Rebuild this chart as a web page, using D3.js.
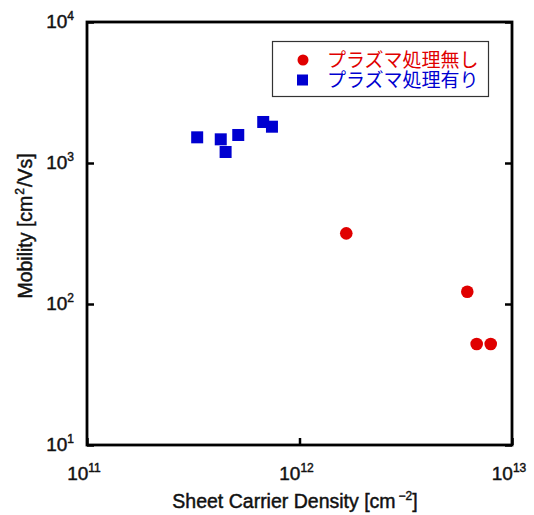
<!DOCTYPE html>
<html><head><meta charset="utf-8">
<script src="https://cdn.jsdelivr.net/npm/d3@7"></script>
<style>body{margin:0;background:#fff}svg{display:block}</style>
</head><body>
<svg id="c" width="534" height="515"></svg>
<script>
const noPlasmaX = [1.66e12, 6.16e12, 6.82e12, 7.94e12];
const noPlasmaY = [317, 122, 52, 52];
const plasmaX = [3.30e11, 4.26e11, 4.49e11, 5.15e11, 6.75e11, 7.42e11];
const plasmaY = [1521, 1472, 1197, 1580, 1954, 1809];
const xTicks = [11, 12, 13];
const yTicks = [1, 2, 3, 4];
const seriesNames = ["プラズマ処理無し", "プラズマ処理有り"];

const svg = d3.select("#c");
const L = 87, R = 512, T = 22, B = 445;
const x = d3.scaleLog().domain([1e11, 1e13]).range([L, R]);
const y = d3.scaleLog().domain([1e1, 1e4]).range([B, T]);
const font = "'Liberation Sans', Arial, sans-serif";
const red = "#e00000", blue = "#0000d0";
const ink = "#111";

function heavy(t) { return t.attr("stroke", ink).attr("stroke-width", 0.45).attr("paint-order", "stroke"); }

// ticks (inward)
const xAxis = d3.axisBottom(x).tickValues(xTicks.map(e => Math.pow(10, e))).tickSize(-7).tickFormat("");
const yAxis = d3.axisLeft(y).tickValues(yTicks.map(e => Math.pow(10, e))).tickSize(-7).tickFormat("");
const gx = svg.append("g").attr("transform", `translate(0,${B})`).call(xAxis);
const gy = svg.append("g").attr("transform", `translate(${L},0)`).call(yAxis);
const gy2 = svg.append("g").attr("transform", `translate(${R},0)`).call(d3.axisRight(y).tickValues(yTicks.map(e => Math.pow(10, e))).tickSize(-7).tickFormat(""));
[gx, gy, gy2].forEach(g => { g.select(".domain").remove(); g.selectAll("line").attr("stroke", "#000").attr("stroke-width", 2.5); });

svg.append("rect").attr("x", L).attr("y", T).attr("width", R - L).attr("height", B - T)
  .attr("fill", "none").attr("stroke", "#000").attr("stroke-width", 2.8);

// tick labels
xTicks.forEach(e => {
  const t = svg.append("text").attr("x", x(Math.pow(10, e)) - 3).attr("y", 480)
    .attr("text-anchor", "middle").attr("font-family", font).attr("font-size", 19).attr("fill", ink);
  heavy(t);
  t.append("tspan").text("10");
  t.append("tspan").attr("dy", -8).attr("font-size", 12).text(e);
});
yTicks.forEach(e => {
  const t = svg.append("text").attr("x", 74).attr("y", y(Math.pow(10, e)) + 6)
    .attr("text-anchor", "end").attr("font-family", font).attr("font-size", 19).attr("fill", ink);
  heavy(t);
  t.append("tspan").text("10");
  t.append("tspan").attr("dy", -8).attr("font-size", 12).text(e);
});

// axis titles
const xt = svg.append("text").attr("x", 295).attr("y", 508).attr("text-anchor", "middle")
  .attr("font-family", font).attr("font-size", 19.5).attr("fill", ink);
heavy(xt);
xt.append("tspan").text("Sheet Carrier Density [cm");
xt.append("tspan").attr("dy", -8).attr("font-size", 12).attr("dx", 3).text("−2");
xt.append("tspan").attr("dy", 8).text("]");

const yt = svg.append("text").attr("transform", "translate(32,226) rotate(-90)").attr("text-anchor", "middle")
  .attr("font-family", font).attr("font-size", 19.5).attr("fill", ink);
heavy(yt);
yt.append("tspan").text("Mobility [cm");
yt.append("tspan").attr("dy", -8).attr("font-size", 12).attr("dx", 1).text("2");
yt.append("tspan").attr("dy", 8).attr("dx", 1).text("/Vs]");

// data
svg.append("g").selectAll("circle").data(noPlasmaX.map((v, i) => [v, noPlasmaY[i]])).join("circle")
  .attr("cx", d => x(d[0])).attr("cy", d => y(d[1])).attr("r", 6.3).attr("fill", red);
svg.append("g").selectAll("rect").data(plasmaX.map((v, i) => [v, plasmaY[i]])).join("rect")
  .attr("x", d => x(d[0]) - 6).attr("y", d => y(d[1]) - 6).attr("width", 12).attr("height", 12).attr("fill", blue);

// legend
svg.append("rect").attr("x", 272.5).attr("y", 41.5).attr("width", 216).attr("height", 55)
  .attr("fill", "#fff").attr("stroke", "#333").attr("stroke-width", 1.2);
svg.append("circle").attr("cx", 303).attr("cy", 60).attr("r", 5.5).attr("fill", red);
svg.append("rect").attr("x", 297).attr("y", 74.5).attr("width", 11).attr("height", 11).attr("fill", blue);
const jp = "'Liberation Sans', 'Noto Sans CJK JP', sans-serif";
svg.append("text").attr("x", 327).attr("y", 67).attr("font-family", jp).attr("font-size", 19)
  .attr("fill", red).text(seriesNames[0]);
svg.append("text").attr("x", 327).attr("y", 87).attr("font-family", jp).attr("font-size", 19)
  .attr("fill", blue).text(seriesNames[1]);
</script>
</body></html>
